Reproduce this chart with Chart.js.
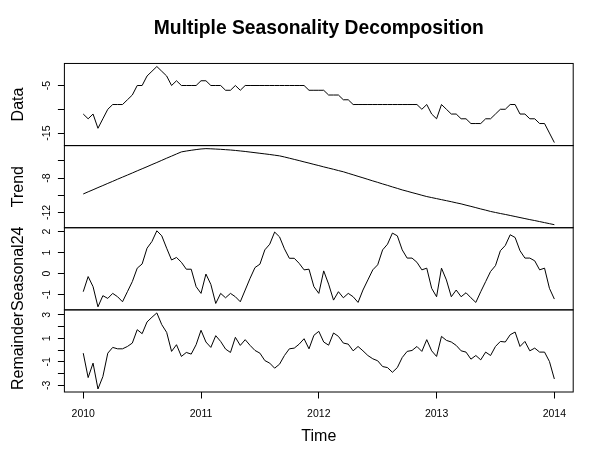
<!DOCTYPE html>
<html><head><meta charset="utf-8">
<script src="https://cdn.jsdelivr.net/npm/chart.js@4.4.1/dist/chart.umd.min.js"></script>
<style>html,body{margin:0;padding:0;background:#fff;}canvas{display:block;}</style>
</head><body>
<canvas id="c" width="600" height="469"></canvas>
<script>
const startYear = 2010;
const frequency = 24;
const xTicks = [2010, 2011, 2012, 2013, 2014];

const dataValues = [-11,-12,-11,-14,-12,-10,-9,-9,-9,-8,-7,-5,-5,-3,-2,-1,-2,-3,-5,-4,
  -5,-5,-5,-5,-4,-4,-5,-5,-5,-6,-6,-5,-6,-5,-5,-5,-5,-5,-5,-5,
  -5,-5,-5,-5,-5,-5,-6,-6,-6,-6,-7,-7,-7,-8,-8,-9,-9,-9,-9,-9,
  -9,-9,-9,-9,-9,-9,-9,-9,-9,-10,-9,-11,-12,-9,-10,-11,-11,-12,-12,-13,
  -13,-13,-12,-12,-11,-10,-10,-9,-9,-11,-11,-12,-12,-13,-13,-15,-17];

const trendValues = [-9.85,-9.60,-9.36,-9.11,-8.87,-8.62,-8.38,-8.13,-7.89,-7.65,
  -7.41,-7.16,-6.92,-6.68,-6.43,-6.19,-5.94,-5.69,-5.45,-5.20,
  -4.96,-4.86,-4.77,-4.69,-4.62,-4.58,-4.60,-4.63,-4.66,-4.70,
  -4.74,-4.79,-4.85,-4.91,-4.98,-5.05,-5.12,-5.19,-5.26,-5.34,
  -5.42,-5.55,-5.69,-5.83,-5.97,-6.12,-6.26,-6.41,-6.55,-6.70,
  -6.84,-6.98,-7.13,-7.27,-7.45,-7.62,-7.80,-7.97,-8.15,-8.33,
  -8.50,-8.68,-8.85,-9.03,-9.20,-9.38,-9.53,-9.69,-9.84,-10.00,
  -10.15,-10.27,-10.39,-10.51,-10.63,-10.75,-10.88,-11.00,-11.15,-11.29,
  -11.44,-11.59,-11.73,-11.88,-12.00,-12.12,-12.23,-12.35,-12.47,-12.59,
  -12.71,-12.83,-12.94,-13.06,-13.18,-13.30,-13.42];

const seasonalValues = [-0.86,-0.14,-0.62,-1.58,-1.05,-1.18,-0.94,-1.10,-1.34,-0.86,
  -0.38,0.26,0.46,1.21,1.53,2.04,1.80,1.21,0.65,0.77,
  0.54,0.21,0.21,-0.62,-0.94,-0.02,-0.51,-1.42,-0.94,-1.15,
  -0.94,-1.10,-1.34,-0.78,-0.22,0.29,0.45,1.13,1.40,1.98,
  1.75,1.18,0.73,0.73,0.49,0.18,0.21,-0.62,-0.94,0.13,
  -0.50,-1.26,-0.86,-1.15,-0.94,-1.10,-1.37,-0.78,-0.30,0.18,
  0.42,1.13,1.40,1.93,1.80,1.13,0.74,0.74,0.54,0.18,
  0.26,-0.70,-1.10,0.26,-0.30,-1.10,-0.78,-1.10,-0.91,-1.15,
  -1.37,-0.86,-0.38,0.10,0.38,1.09,1.34,1.85,1.72,1.09,
  0.74,0.74,0.61,0.18,0.26,-0.70,-1.21];

const remainderValues = [-0.26,-2.34,-1.11,-3.31,-2.26,-0.26,0.23,0.11,0.11,0.31,
  0.60,1.74,1.40,2.40,2.80,3.17,2.17,1.51,-0.11,0.46,
  -0.54,-0.20,-0.34,0.46,1.69,0.69,0.23,1.23,0.74,0.09,
  -0.20,1.09,0.40,0.89,0.40,-0.03,-0.26,-0.89,-1.11,-1.54,
  -1.20,-0.46,0.11,0.17,0.51,0.97,0.11,1.26,1.60,0.69,
  0.42,1.46,1.17,0.60,0.51,-0.06,0.31,-0.06,-0.46,-0.74,
  -0.91,-1.40,-1.49,-1.89,-1.49,-0.63,-0.11,-0.03,0.31,-0.11,
  0.89,-0.06,-0.54,1.17,0.83,0.69,0.40,-0.06,-0.17,-0.77,
  -0.46,-0.83,-0.17,-0.46,0.31,0.74,0.69,1.31,1.54,0.31,
  0.74,-0.06,0.17,-0.17,-0.17,-0.97,-2.46];

const dataTicks = [-5, -10, -15];       const dataLabeled = [-5, -15];
const trendTicks = [-6, -8, -10, -12];  const trendLabeled = [-8, -12];
const seasTicks = [2, 1, 0, -1];        const seasLabeled = [2, 1, 0, -1];
const remTicks = [3, 2, 1, 0, -1, -2, -3]; const remLabeled = [3, 1, -1, -3];

const FONT = "'Liberation Sans', Arial, Helvetica, sans-serif";
const AXIS_W = 64.4;
const X_AXIS_H = 77;

function toPoints(vals) { return vals.map((v, i) => ({ x: startYear + i / frequency, y: v })); }
function padRange(vals) {
  const mn = Math.min(...vals), mx = Math.max(...vals), e = (mx - mn) * 0.04;
  return { min: mn - e, max: mx + e };
}

function yScale(title, vals, ticks, labeled, pad) {
  const r = padRange(vals);
  return {
    type: 'linear', position: 'left', stack: 'panels', stackWeight: 1, offset: false,
    bounds: 'data', min: r.min, max: r.max,
    afterBuildTicks: s => { s.ticks = ticks.map(v => ({ value: v })); },
    afterFit: s => { s.width = AXIS_W; },
    grid: { display: true, drawOnChartArea: false, drawTicks: true, tickLength: 6.5, tickColor: '#000', tickWidth: 1 },
    border: { display: false },
    ticks: {
      autoSkip: false, minRotation: 90, maxRotation: 90, crossAlign: 'center', padding: pad,
      color: '#000', font: { family: FONT, size: 10.5 },
      callback: v => labeled.includes(v) ? String(v) : ''
    },
    title: { display: true, text: title, color: '#000', font: { family: FONT, size: 16 }, padding: { top: 9.2, bottom: 0 } }
  };
}

const xRange = padRange([startYear, startYear + (dataValues.length - 1) / frequency]);

const frames = {
  id: 'frames',
  afterDraw(chart) {
    const ctx = chart.ctx, a = chart.chartArea;
    ctx.save();
    ctx.strokeStyle = '#000';
    ctx.lineWidth = 1;
    for (const id of ['yData', 'yTrend', 'ySeas', 'yRem']) {
      const s = chart.scales[id];
      ctx.strokeRect(a.left, s.top, a.right - a.left, s.bottom - s.top);
    }
    ctx.restore();
  }
};

function ds(vals, axis) {
  return { data: toPoints(vals), xAxisID: 'x', yAxisID: axis, borderColor: '#000', borderWidth: 1,
    pointRadius: 0, fill: false, tension: 0 };
}

new Chart(document.getElementById('c'), {
  type: 'line',
  data: { datasets: [ds(dataValues, 'yData'), ds(trendValues, 'yTrend'), ds(seasonalValues, 'ySeas'), ds(remainderValues, 'yRem')] },
  options: {
    responsive: false, animation: false, devicePixelRatio: 1,
    layout: { padding: { left: 0, right: 26.8, top: 0, bottom: 0 } },
    plugins: {
      legend: { display: false }, tooltip: { enabled: false },
      title: { display: true, text: 'Multiple Seasonality Decomposition', color: '#000', fullSize: false,
        font: { family: FONT, size: 19.3, weight: 'bold' }, padding: { top: 17.5, bottom: 22.8 } }
    },
    scales: {
      x: {
        type: 'linear', position: 'bottom', bounds: 'data', min: xRange.min, max: xRange.max,
        afterBuildTicks: s => { s.ticks = xTicks.map(v => ({ value: v })); },
        afterFit: s => { s.height = X_AXIS_H; },
        grid: { drawOnChartArea: false, tickLength: 6.5, tickColor: '#000' },
        border: { display: false },
        ticks: { autoSkip: false, maxRotation: 0, padding: 9.5, color: '#000', font: { family: FONT, size: 10.5 }, callback: v => String(v) },
        title: { display: true, text: 'Time', color: '#000', font: { family: FONT, size: 16 }, padding: { top: 0, bottom: 22.7 } }
      },
      yRem: yScale('Remainder', remainderValues, remTicks, remLabeled, 6.3),
      ySeas: yScale('Seasonal24', seasonalValues, seasTicks, seasLabeled, 6.3),
      yTrend: yScale('Trend', trendValues, trendTicks, trendLabeled, 3.4),
      yData: yScale('Data', dataValues, dataTicks, dataLabeled, 3.4)
    }
  },
  plugins: [frames]
});
</script>
</body></html>
